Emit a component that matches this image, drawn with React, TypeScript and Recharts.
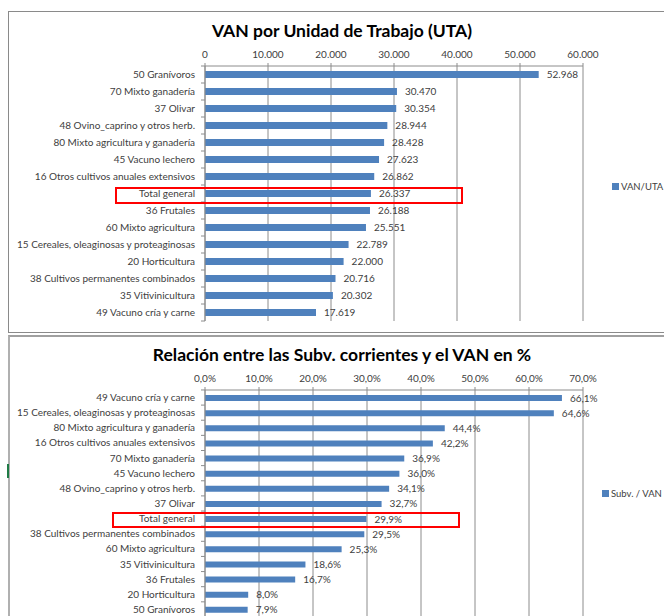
import { BarChart, Bar, XAxis, YAxis, CartesianGrid, LabelList } from "recharts";

const vanCategories = [
  "50 Granívoros",
  "70 Mixto ganadería",
  "37 Olivar",
  "48 Ovino_caprino y otros herb.",
  "80 Mixto agricultura y ganadería",
  "45 Vacuno lechero",
  "16 Otros cultivos anuales extensivos",
  "Total general",
  "36 Frutales",
  "60 Mixto agricultura",
  "15 Cereales, oleaginosas y proteaginosas",
  "20 Horticultura",
  "38 Cultivos permanentes combinados",
  "35 Vitivinicultura",
  "49 Vacuno cría y carne",
];
const vanValues = [52968, 30470, 30354, 28944, 28428, 27623, 26862, 26337, 26188, 25551, 22789, 22000, 20716, 20302, 17619];
const vanTicks = [0, 10000, 20000, 30000, 40000, 50000, 60000];

const subvCategories = [
  "49 Vacuno cría y carne",
  "15 Cereales, oleaginosas y proteaginosas",
  "80 Mixto agricultura y ganadería",
  "16 Otros cultivos anuales extensivos",
  "70 Mixto ganadería",
  "45 Vacuno lechero",
  "48 Ovino_caprino y otros herb.",
  "37 Olivar",
  "Total general",
  "38 Cultivos permanentes combinados",
  "60 Mixto agricultura",
  "35 Vitivinicultura",
  "36 Frutales",
  "20 Horticultura",
  "50 Granívoros",
];
const subvValues = [66.1, 64.6, 44.4, 42.2, 36.9, 36.0, 34.1, 32.7, 29.9, 29.5, 25.3, 18.6, 16.7, 8.0, 7.9];
const subvTicks = [0, 10, 20, 30, 40, 50, 60, 70];

const vanData = vanCategories.map((name, i) => ({ name, value: vanValues[i] }));
const subvData = subvCategories.map((name, i) => ({ name, value: subvValues[i] }));

const FONT = "Lato, 'Open Sans', sans-serif";
const BLUE = "#4f81bd";
const GRID = "#8c8c8c";
const TEXT = "#404040";

const fmtThousands = (v: number) =>
  Math.round(v).toString().replace(/\B(?=(\d{3})+(?!\d))/g, ".");
const fmtPct = (v: number) => v.toFixed(1).replace(".", ",") + "%";

// category label plus the small tick marks Excel puts between categories
const CategoryTick = (props: any) => {
  const { x, y, payload, index, band, count } = props;
  const axisX = x + 10;
  return (
    <g>
      <text x={x} y={y} dy={3.5} textAnchor="end" fontSize={10} fill={TEXT} fontFamily={FONT}>
        {payload.value}
      </text>
      <line x1={axisX - 4} x2={axisX} y1={y - band / 2} y2={y - band / 2} stroke={GRID} />
      {index === count - 1 && (
        <line x1={axisX - 4} x2={axisX} y1={y + band / 2} y2={y + band / 2} stroke={GRID} />
      )}
    </g>
  );
};

const LegendItem = ({ left, top, label }: { left: number; top: number; label: string }) => (
  <div
    style={{
      position: "absolute",
      left,
      top,
      display: "flex",
      alignItems: "center",
      whiteSpace: "nowrap",
      fontSize: 9.5,
      color: TEXT,
    }}
  >
    <span style={{ display: "inline-block", width: 7, height: 7, background: BLUE, marginRight: 2 }} />
    {label}
  </div>
);

const App = () => {
  return (
    <div
      style={{
        position: "absolute",
        left: 0,
        top: 0,
        width: 664,
        height: 616,
        overflow: "hidden",
        background: "#fff",
        fontFamily: FONT,
      }}
    >
      {/* top chart frame */}
      <div
        style={{
          position: "absolute",
          left: 8,
          top: 11,
          width: 670,
          height: 320,
          border: "1px solid #8a8a8a",
        }}
      />
      <div
        style={{
          position: "absolute",
          left: 0,
          top: 20,
          width: 684,
          textAlign: "center",
          fontWeight: 700,
          fontSize: 17.5,
          color: "#000",
        }}
      >
        VAN por Unidad de Trabajo (UTA)
      </div>
      <div style={{ position: "absolute", left: 0, top: 0 }}>
        <BarChart
          width={664}
          height={332}
          data={vanData}
          layout="vertical"
          margin={{ top: 46, right: 81, bottom: 11, left: 0 }}
        >
          <CartesianGrid horizontal={false} stroke={GRID} />
          <XAxis
            type="number"
            orientation="top"
            domain={[0, 60000]}
            ticks={vanTicks}
            tickFormatter={fmtThousands}
            height={20}
            stroke={GRID}
            tickSize={3}
            tickMargin={5}
            tick={{ fill: TEXT, fontSize: 10, fontFamily: FONT }}
          />
          <YAxis
            type="category"
            dataKey="name"
            width={205}
            stroke={GRID}
            tickLine={false}
            tickSize={0}
            tickMargin={10}
            interval={0}
            tick={<CategoryTick band={17} count={vanData.length} />}
          />
          <Bar dataKey="value" name="VAN/UTA" fill={BLUE} barSize={7} isAnimationActive={false}>
            <LabelList
              dataKey="value"
              position="right"
              offset={8}
              formatter={(v: any) => fmtThousands(Number(v))}
              fill={TEXT}
              fontSize={10}
              fontFamily={FONT}
            />
          </Bar>
        </BarChart>
      </div>
      <LegendItem left={612} top={181} label="VAN/UTA" />
      <div
        style={{
          position: "absolute",
          left: 115,
          top: 187,
          width: 344,
          height: 13,
          border: "2px solid #ff0000",
        }}
      />

      {/* bottom chart frame */}
      <div
        style={{
          position: "absolute",
          left: 8,
          top: 335,
          width: 670,
          height: 300,
          borderTop: "2px solid #a0a0a0",
          borderLeft: "2px solid #b0b0b0",
        }}
      />
      <div style={{ position: "absolute", left: 7, top: 464, width: 2, height: 14, background: "#1e7b45" }} />
      <div
        style={{
          position: "absolute",
          left: 0,
          top: 344,
          width: 684,
          textAlign: "center",
          fontWeight: 700,
          fontSize: 17.5,
          color: "#000",
        }}
      >
        Relación entre las Subv. corrientes y el VAN en %
      </div>
      <div style={{ position: "absolute", left: 0, top: 335 }}>
        <BarChart
          width={664}
          height={282}
          data={subvData}
          layout="vertical"
          margin={{ top: 35, right: 81, bottom: 0, left: 0 }}
        >
          <CartesianGrid horizontal={false} stroke={GRID} />
          <XAxis
            type="number"
            orientation="top"
            domain={[0, 70]}
            ticks={subvTicks}
            tickFormatter={fmtPct}
            height={20}
            stroke={GRID}
            tickSize={3}
            tickMargin={5}
            tick={{ fill: TEXT, fontSize: 10, fontFamily: FONT }}
          />
          <YAxis
            type="category"
            dataKey="name"
            width={205}
            stroke={GRID}
            tickLine={false}
            tickSize={0}
            tickMargin={10}
            interval={0}
            tick={<CategoryTick band={15.2} count={subvData.length} />}
          />
          <Bar dataKey="value" name="Subv. / VAN" fill={BLUE} barSize={6} isAnimationActive={false}>
            <LabelList
              dataKey="value"
              position="right"
              offset={8}
              formatter={(v: any) => fmtPct(Number(v))}
              fill={TEXT}
              fontSize={10}
              fontFamily={FONT}
            />
          </Bar>
        </BarChart>
      </div>
      <LegendItem left={602} top={488} label="Subv. / VAN" />
      <div
        style={{
          position: "absolute",
          left: 112,
          top: 512,
          width: 344,
          height: 12,
          border: "2px solid #ff0000",
        }}
      />
    </div>
  );
};

export default App;
